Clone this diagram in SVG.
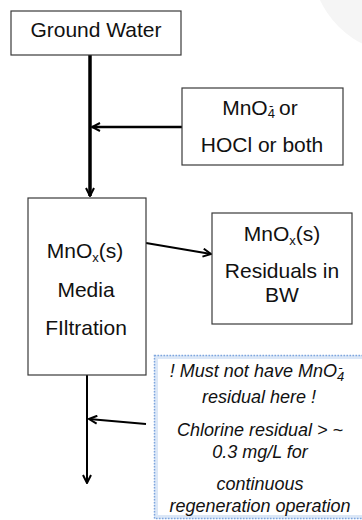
<svg xmlns="http://www.w3.org/2000/svg" width="362" height="520" viewBox="0 0 362 520">
  <style>
    .box { fill: #ffffff; stroke: #3a3a3a; stroke-width: 1.2; }
    .lbl { font-family: "Liberation Sans", Arial, sans-serif; font-size: 21px; fill: #111111; text-anchor: middle; }
    .note { font-family: "Liberation Sans", Arial, sans-serif; font-size: 18px; font-style: italic; fill: #111111; text-anchor: middle; }
    .small { font-size: 13px; }
    .wire { fill: none; stroke: #000000; }
  </style>
  <defs>
    <marker id="chev" viewBox="0 0 10 10" refX="9" refY="5" markerWidth="10" markerHeight="10" markerUnits="userSpaceOnUse" orient="auto">
      <path d="M1,1 L9,5 L1,9" fill="none" stroke="#000000" stroke-width="2"/>
    </marker>
  </defs>

  <!-- faint background disc in the corner -->
  <circle cx="405" cy="-40" r="94" fill="#f5f5f5"/>

  <g id="connectors">
    <line class="wire" x1="90" y1="55" x2="90" y2="196" stroke-width="3.5" marker-end="url(#chev)"/>
    <line class="wire" x1="182" y1="127" x2="92" y2="127" stroke-width="2.5" marker-end="url(#chev)"/>
    <line class="wire" x1="146" y1="243" x2="211" y2="254" stroke-width="2" marker-end="url(#chev)"/>
    <line class="wire" x1="87" y1="375" x2="87" y2="483" stroke-width="2" marker-end="url(#chev)"/>
    <line class="wire" x1="146" y1="424" x2="89" y2="419" stroke-width="2" marker-end="url(#chev)"/>
  </g>

  <g id="ground-water">
    <rect class="box" x="11" y="11" width="170" height="44"/>
    <text class="lbl" x="96" y="37">Ground Water</text>
  </g>

  <g id="oxidant">
    <rect class="box" x="182" y="88" width="161" height="77"/>
    <text class="lbl" x="260" y="115">MnO<tspan class="small" dy="3">4</tspan><tspan class="small" dx="-6" dy="-8">-</tspan><tspan dy="5"> or</tspan></text>
    <text class="lbl" x="262" y="152">HOCl or both</text>
  </g>

  <g id="media-filtration">
    <rect class="box" x="28" y="198" width="118" height="177"/>
    <text class="lbl" x="85" y="258">MnO<tspan class="small" dy="4">x</tspan><tspan dy="-4">(s)</tspan></text>
    <text class="lbl" x="86" y="297">Media</text>
    <text class="lbl" x="86" y="335">FIltration</text>
  </g>

  <g id="residuals">
    <rect class="box" x="212" y="213" width="140" height="111"/>
    <text class="lbl" x="282" y="241">MnO<tspan class="small" dy="4">x</tspan><tspan dy="-4">(s)</tspan></text>
    <text class="lbl" x="282" y="278">Residuals in</text>
    <text class="lbl" x="282" y="302">BW</text>
  </g>

  <g id="note">
    <rect x="156" y="357" width="230" height="160" fill="#ffffff" stroke="#dbe7f7" stroke-width="4"/>
    <rect x="154.5" y="355.5" width="232" height="163" fill="none" stroke="#7fa6de" stroke-width="1.5" stroke-dasharray="1.5 1.5"/>
    <text class="note" x="257" y="377">! Must not have MnO<tspan class="small" dy="4">4</tspan><tspan class="small" dx="-6" dy="-9">-</tspan></text>
    <text class="note" x="259" y="403">residual here !</text>
    <text class="note" x="260" y="436">Chlorine residual &gt; ~</text>
    <text class="note" x="260" y="458">0.3 mg/L for</text>
    <text class="note" x="260" y="490">continuous</text>
    <text class="note" x="260" y="512">regeneration operation</text>
  </g>
</svg>
